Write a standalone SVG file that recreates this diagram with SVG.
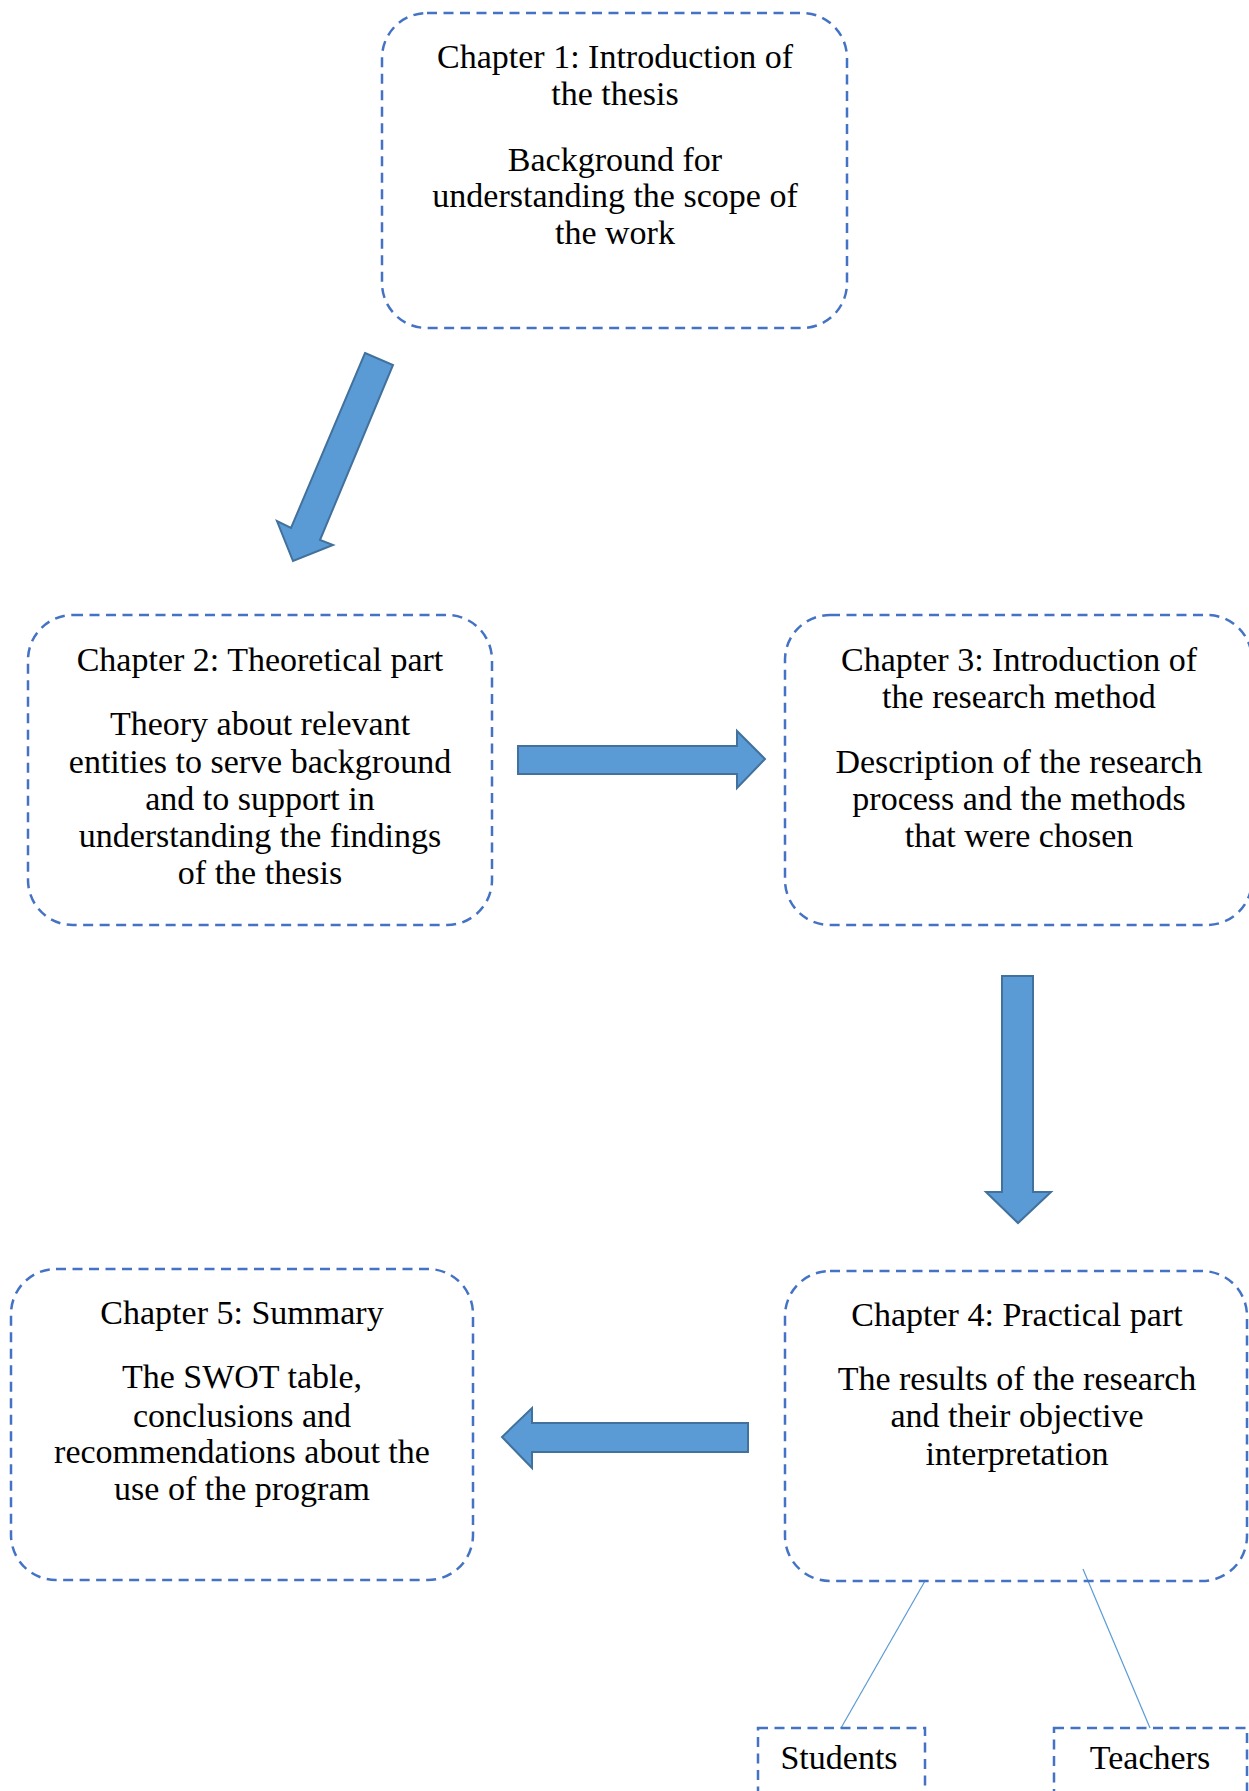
<svg xmlns="http://www.w3.org/2000/svg" width="1249" height="1791" viewBox="0 0 1249 1791">
<style>
.box{fill:none;stroke:#4472C4;stroke-width:2.5;stroke-dasharray:10 6.5}
.t{font-family:"Liberation Serif","Times New Roman",serif;font-size:34px;fill:#000;text-anchor:middle}
.arr{fill:#5B9BD5;stroke:#41719C;stroke-width:2;stroke-linejoin:miter}
.ln{stroke:#5B9BD5;stroke-width:1.2;fill:none}
</style>
<rect width="1249" height="1791" fill="#fff"/>
<g id="connectors">
<polygon class="arr" points="365,353 393,365 320,540 333,545 293,561 277,521 291,528"/>
<polygon class="arr" points="518,746 737,746 737,731 765,759 737,788 737,774 518,774"/>
<polygon class="arr" points="1002,976 1033,976 1033,1192 1051,1192 1018,1223 986,1192 1002,1192"/>
<polygon class="arr" points="748,1423 532,1423 532,1408 502,1437 532,1468 532,1452 748,1452"/>
<line class="ln" x1="925" y1="1581" x2="841" y2="1728"/>
<line class="ln" x1="1083" y1="1569" x2="1150" y2="1728"/>
</g>
<g id="ch1">
<rect class="box" x="382" y="13" width="465" height="315" rx="45" ry="45"/>
<text class="t" x="615" y="68">Chapter 1: Introduction of</text>
<text class="t" x="615" y="105">the thesis</text>
<text class="t" x="615" y="171">Background for</text>
<text class="t" x="615" y="207">understanding the scope of</text>
<text class="t" x="615" y="244">the work</text>
</g>
<g id="ch2">
<rect class="box" x="28" y="615" width="464" height="310" rx="45" ry="45"/>
<text class="t" x="260" y="671">Chapter 2: Theoretical part</text>
<text class="t" x="260" y="735">Theory about relevant</text>
<text class="t" x="260" y="773">entities to serve background</text>
<text class="t" x="260" y="810">and to support in</text>
<text class="t" x="260" y="847">understanding the findings</text>
<text class="t" x="260" y="884">of the thesis</text>
</g>
<g id="ch3">
<rect class="box" x="785" y="615" width="467" height="310" rx="45" ry="45"/>
<text class="t" x="1019" y="671">Chapter 3: Introduction of</text>
<text class="t" x="1019" y="708">the research method</text>
<text class="t" x="1019" y="773">Description of the research</text>
<text class="t" x="1019" y="810">process and the methods</text>
<text class="t" x="1019" y="847">that were chosen</text>
</g>
<g id="ch4">
<rect class="box" x="785" y="1271" width="462" height="310" rx="45" ry="45"/>
<text class="t" x="1017" y="1326">Chapter 4: Practical part</text>
<text class="t" x="1017" y="1390">The results of the research</text>
<text class="t" x="1017" y="1427">and their objective</text>
<text class="t" x="1017" y="1465">interpretation</text>
</g>
<g id="ch5">
<rect class="box" x="11" y="1269" width="462" height="311" rx="45" ry="45"/>
<text class="t" x="242" y="1324">Chapter 5: Summary</text>
<text class="t" x="242" y="1388">The SWOT table,</text>
<text class="t" x="242" y="1427">conclusions and</text>
<text class="t" x="242" y="1463">recommendations about the</text>
<text class="t" x="242" y="1500">use of the program</text>
</g>
<g id="students">
<rect class="box" x="758" y="1728" width="167" height="90"/>
<text class="t" x="839" y="1769">Students</text>
</g>
<g id="teachers">
<rect class="box" x="1054" y="1728" width="193" height="90"/>
<text class="t" x="1150" y="1769">Teachers</text>
</g>
</svg>
